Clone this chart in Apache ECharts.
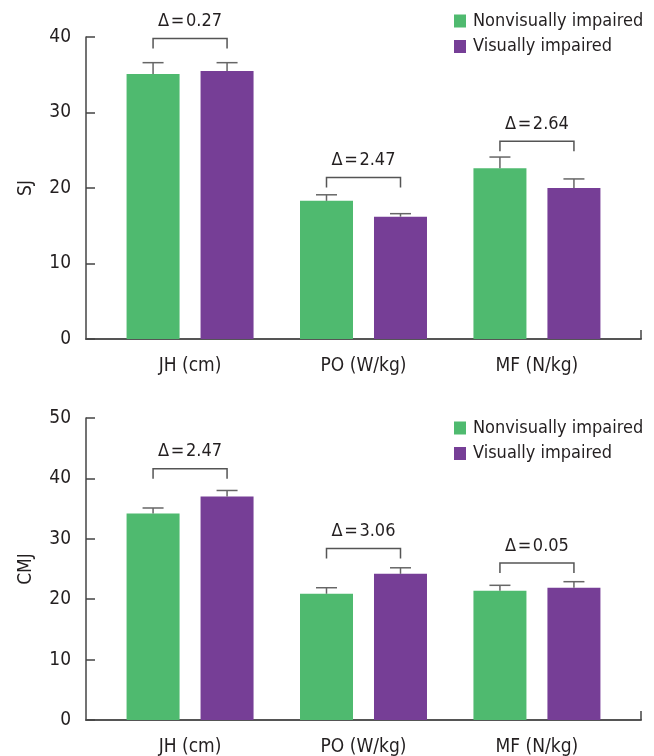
<!DOCTYPE html>
<html>
<head>
<meta charset="utf-8">
<script src="https://cdn.jsdelivr.net/npm/echarts@6/dist/echarts.min.js"></script>
<style>html,body{margin:0;padding:0;background:#fff;}#c{width:654px;height:756px;}</style>
</head>
<body>
<div id="c"></div>
<script>
const categories = ['JH (cm)', 'PO (W/kg)', 'MF (N/kg)'];
const legendNames = ['Nonvisually impaired', 'Visually impaired'];
const sjTicks = [0, 40, 10];
const cmjTicks = [0, 50, 10];
const sjNon = [35.1, 18.3, 22.6];
const sjNonErr = [1.5, 0.8, 1.5];
const sjVis = [35.5, 16.2, 20.0];
const sjVisErr = [1.1, 0.4, 1.2];
const sjDelta = ['0.27', '2.47', '2.64'];
const sjBracket = [39.8, 21.4, 26.2];
const cmjNon = [34.2, 20.9, 21.4];
const cmjNonErr = [0.9, 1.0, 0.9];
const cmjVis = [37.0, 24.2, 21.9];
const cmjVisErr = [1.0, 1.0, 1.0];
const cmjDelta = ['2.47', '3.06', '0.05'];
const cmjBracket = [41.6, 28.4, 26.0];

const FONT = '"DejaVu Sans Condensed", "Liberation Sans Narrow", Roboto, sans-serif';
const TXT = '#231f20';
const GREEN = '#4fba6f';
const PURPLE = '#763e96';
const BAR_W = 53, BAR_GAP = 21;
const OFF = (BAR_W + BAR_GAP) / 2;
const CAP = 10.5, LEG = 10;

function errRender(dx) {
  return function (params, api) {
    const x = api.value(0), v = api.value(1), e = api.value(2);
    const b = api.coord([x, v]);
    const t = api.coord([x, v + e]);
    const cx = b[0] + dx;
    const st = { stroke: '#666', lineWidth: 1.5 };
    return {
      type: 'group',
      children: [
        { type: 'line', shape: { x1: cx, y1: b[1], x2: cx, y2: t[1] }, style: st },
        { type: 'line', shape: { x1: cx - CAP, y1: t[1], x2: cx + CAP, y2: t[1] }, style: st }
      ]
    };
  };
}
function bracketRender(deltas) {
  return function (params, api) {
    const p = api.coord([api.value(0), api.value(1)]);
    const cx = p[0], y = p[1];
    return {
      type: 'group',
      children: [
        { type: 'polyline', shape: { points: [[cx - OFF, y + LEG], [cx - OFF, y], [cx + OFF, y], [cx + OFF, y + LEG]] },
          style: { stroke: '#555', lineWidth: 1.5, fill: null } },
        { type: 'text', x: cx, y: y - 17,
          style: { text: 'Δ\u200A=\u200A' + deltas[params.dataIndex], fill: TXT, font: '18px ' + FONT, align: 'center', verticalAlign: 'middle' } }
      ]
    };
  };
}

function xAxisDef(gi) {
  return {
    type: 'value', gridIndex: gi, min: -0.6, max: 2.6,
    splitLine: { show: false },
    axisLine: { show: true, onZero: false, lineStyle: { color: '#555', width: 2 } },
    axisTick: { show: true, inside: true, length: 9, customValues: [2.6], lineStyle: { color: '#444', width: 1.5 } },
    axisLabel: { customValues: [0, 1, 2], formatter: v => categories[Math.round(v)], margin: 18,
      fontFamily: FONT, fontSize: 19, color: TXT }
  };
}
function yAxisDef(gi, ticks, name) {
  return {
    type: 'value', gridIndex: gi, min: ticks[0], max: ticks[1], interval: ticks[2],
    name: name, nameLocation: 'middle', nameGap: 50, nameRotate: 90,
    nameTextStyle: { fontFamily: FONT, fontSize: 19, color: TXT },
    splitLine: { show: false },
    axisLine: { show: true, onZero: false, lineStyle: { color: '#444', width: 1.5 } },
    axisTick: { show: true, inside: true, length: 9, lineStyle: { color: '#444', width: 1.5 } },
    axisLabel: { margin: 15, fontFamily: FONT, fontSize: 19, color: TXT }
  };
}
function barSeries(gi, name, vals, color) {
  return {
    type: 'bar', name: name, xAxisIndex: gi, yAxisIndex: gi,
    data: vals.map((v, i) => [i, v]),
    barWidth: BAR_W, barGap: (BAR_GAP / BAR_W * 100).toFixed(1) + '%',
    itemStyle: { color: color }, silent: true
  };
}
function errSeries(gi, vals, errs, dx) {
  return {
    type: 'custom', xAxisIndex: gi, yAxisIndex: gi, z: 5, silent: true,
    data: vals.map((v, i) => [i, v, errs[i]]),
    renderItem: errRender(dx)
  };
}
function bracketSeries(gi, ys, deltas) {
  return {
    type: 'custom', xAxisIndex: gi, yAxisIndex: gi, z: 5, silent: true,
    data: ys.map((y, i) => [i, y]),
    renderItem: bracketRender(deltas)
  };
}
function legendDef(top) {
  return {
    data: legendNames, orient: 'vertical', left: 449, top: top, itemGap: 7.5,
    itemWidth: 12, itemHeight: 13, icon: 'rect', selectedMode: false,
    textStyle: { fontFamily: FONT, fontSize: 18, color: TXT, padding: [0, 0, 0, 2] }
  };
}

const chart = echarts.init(document.getElementById('c'), null, { renderer: 'canvas' });
chart.setOption({
  animation: false,
  backgroundColor: '#fff',
  grid: [
    { left: 86, right: 13, top: 37, height: 302, outerBoundsMode: 'none' },
    { left: 86, right: 13, top: 418, height: 302, outerBoundsMode: 'none' }
  ],
  legend: [legendDef(7), legendDef(414)],
  xAxis: [xAxisDef(0), xAxisDef(1)],
  yAxis: [yAxisDef(0, sjTicks, 'SJ'), yAxisDef(1, cmjTicks, 'CMJ')],
  series: [
    barSeries(0, legendNames[0], sjNon, GREEN),
    barSeries(0, legendNames[1], sjVis, PURPLE),
    errSeries(0, sjNon, sjNonErr, -OFF),
    errSeries(0, sjVis, sjVisErr, OFF),
    bracketSeries(0, sjBracket, sjDelta),
    barSeries(1, legendNames[0], cmjNon, GREEN),
    barSeries(1, legendNames[1], cmjVis, PURPLE),
    errSeries(1, cmjNon, cmjNonErr, -OFF),
    errSeries(1, cmjVis, cmjVisErr, OFF),
    bracketSeries(1, cmjBracket, cmjDelta)
  ]
});
</script>
</body>
</html>
